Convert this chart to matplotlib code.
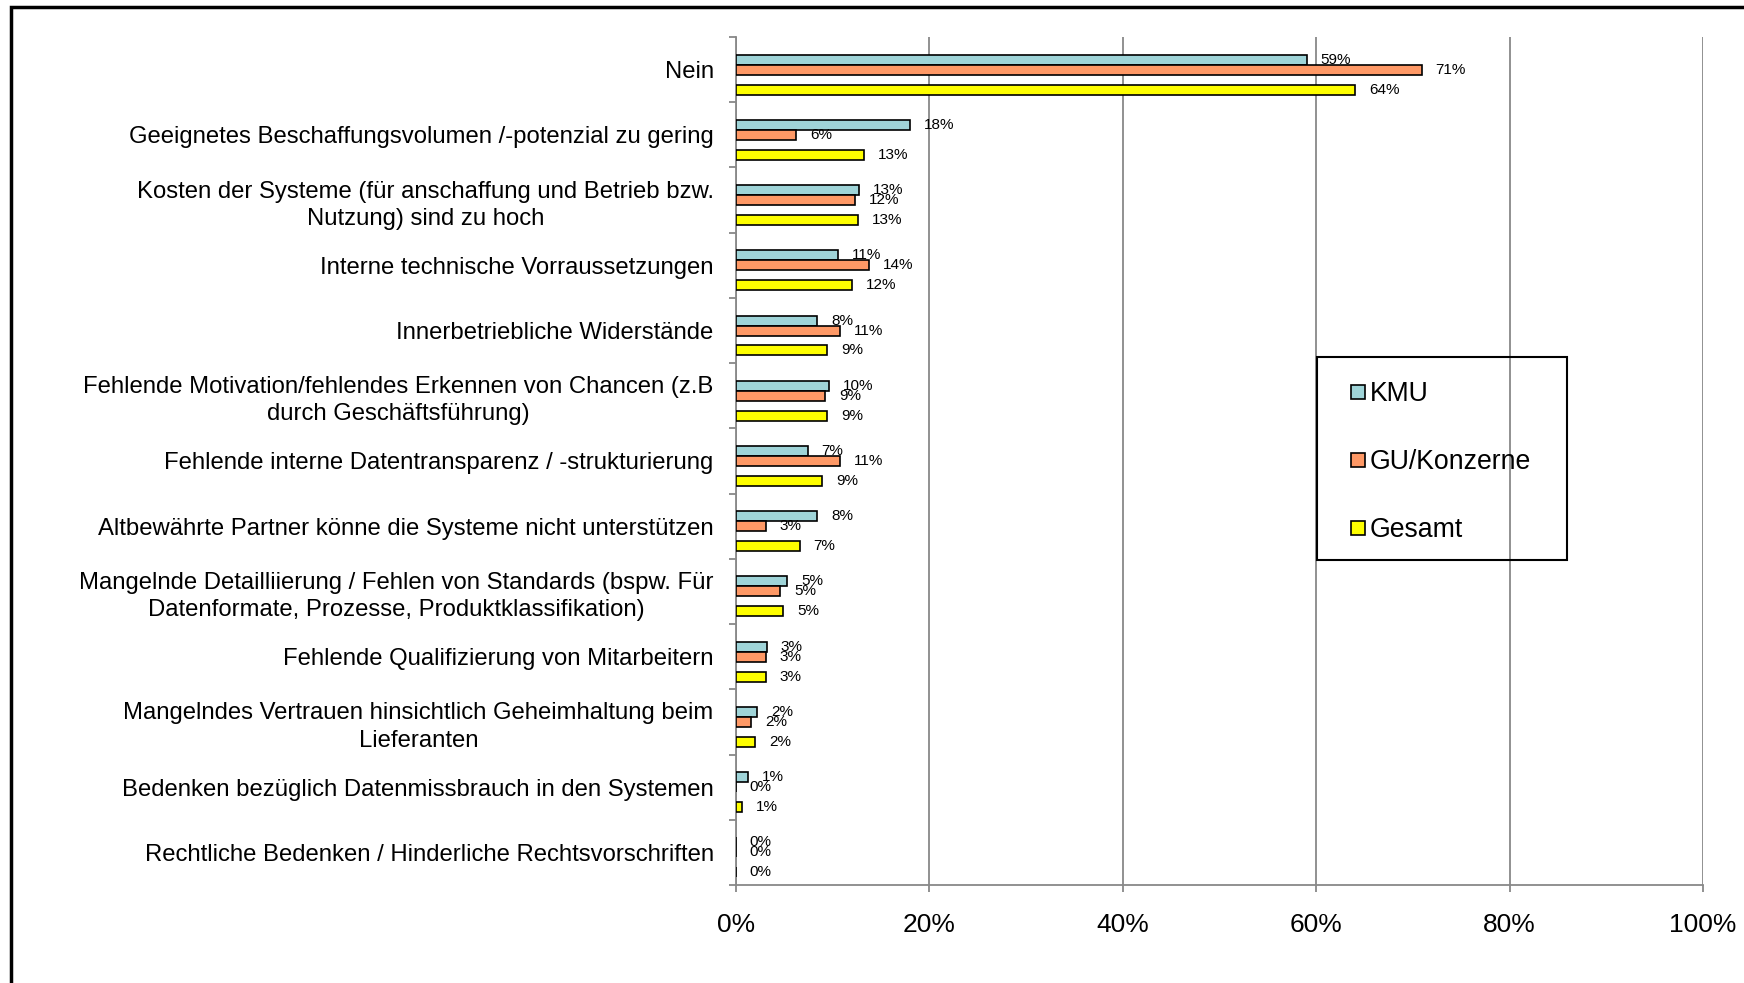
import matplotlib.pyplot as plt
from matplotlib.patches import Rectangle
from matplotlib.lines import Line2D
import numpy as np

plt.rcParams['font.family'] = ['Liberation Sans', 'DejaVu Sans']

categories = ['Nein',
	'Geeignetes Beschaffungsvolumen /-potenzial zu gering',
	'Kosten der Systeme (für anschaffung und Betrieb bzw.\nNutzung) sind zu hoch',
	'Interne technische Vorraussetzungen',
	'Innerbetriebliche Widerstände',
	'Fehlende Motivation/fehlendes Erkennen von Chancen (z.B\ndurch Geschäftsführung)',
	'Fehlende interne Datentransparenz / -strukturierung',
	'Altbewährte Partner könne die Systeme nicht unterstützen',
	'Mangelnde Detailliierung / Fehlen von Standards (bspw. Für\nDatenformate, Prozesse, Produktklassifikation)',
	'Fehlende Qualifizierung von Mitarbeitern',
	'Mangelndes Vertrauen hinsichtlich Geheimhaltung beim\nLieferanten',
	'Bedenken bezüglich Datenmissbrauch in den Systemen',
	'Rechtliche Bedenken / Hinderliche Rechtsvorschriften']

kmu = [59.0, 18.0, 12.7, 10.6, 8.4, 9.6, 7.4, 8.4, 5.3, 3.2, 2.2, 1.2, 0.0]
gu = [70.9, 6.2, 12.3, 13.8, 10.8, 9.2, 10.8, 3.1, 4.6, 3.1, 1.6, 0.0, 0.0]
gesamt = [64.0, 13.2, 12.6, 12.0, 9.4, 9.4, 8.9, 6.6, 4.9, 3.1, 2.0, 0.6, 0.0]

series = ['KMU', 'GU/Konzerne', 'Gesamt']
colors = ['#9fd4d8', '#ff9966', '#ffff00']
slots = [-1, 0, 2]

fig = plt.figure(figsize=(17.44, 9.83), dpi=100)
ax = fig.add_axes([0.422, 0.0997, 0.5545, 0.8627])

y = np.arange(len(categories))
h = 0.153
for vals, name, col, s in zip([kmu, gu, gesamt], series, colors, slots):
	bars = ax.barh(y + s*h, vals, height=h, color=col, edgecolor='black', linewidth=1.2, label=name, zorder=3)
	for b, v in zip(bars, vals):
		ax.annotate('%.0f%%' % v, (b.get_width(), b.get_y() + b.get_height()/2),
			xytext=(10, 0), textcoords='offset points', ha='left', va='center', fontsize=11, zorder=4)

ax.set_xlim(0, 100)
ax.set_ylim(len(categories) - 0.5, -0.5)
ax.set_xticks([0, 20, 40, 60, 80, 100])
ax.set_xticklabels(['0%', '20%', '40%', '60%', '80%', '100%'], fontsize=19)
ax.set_yticks(y)
ax.set_yticklabels(categories, fontsize=17.2)
for lab in ax.get_yticklabels():
	lab.set_multialignment('center')
	lab.set_linespacing(1.3)
ax.set_yticks(np.arange(len(categories) + 1) - 0.5, minor=True)
ax.tick_params(axis='y', which='major', length=0, pad=16)
ax.tick_params(axis='y', which='minor', length=5, width=1.3, color='#888888')
ax.tick_params(axis='x', length=5, width=1.3, color='#888888', pad=15)
ax.grid(axis='x', color='#888888', linewidth=1.3, zorder=0)

for sp in ['top', 'right']:
	ax.spines[sp].set_visible(False)
for sp in ['left', 'bottom']:
	ax.spines[sp].set_color('#888888')
	ax.spines[sp].set_linewidth(1.3)

# legend: square markers, transparent frame drawn separately (gridline shows through)
handles = [Line2D([], [], marker='s', linestyle='none', markersize=9.5, markerfacecolor=c,
	markeredgecolor='black', markeredgewidth=1.2) for c in colors]
leg = ax.legend(handles, series, loc='upper left', bbox_to_anchor=(0.636, 0.5945), fontsize=19.2, frameon=False,
	handlelength=0.55, handletextpad=0.16, labelspacing=1.58, borderpad=0, borderaxespad=0)
ax.add_patch(Rectangle((0.601, 0.3833), 0.258, 0.2393, transform=ax.transAxes, fill=False,
	edgecolor='black', linewidth=1.5, zorder=5))
leg.set_zorder(6)

fig.patches.append(Rectangle((0.0063, -0.1), 1.2, 1.093, transform=fig.transFigure, fill=False,
	edgecolor='black', linewidth=2.5))

plt.savefig('out.png')
